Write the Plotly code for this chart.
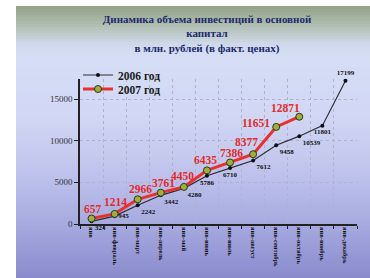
import plotly.graph_objects as go

categories = ["янв", "янв-февраль", "янв-март", "янв-апрель", "янв-май", "янв-июнь",
              "янв-июль", "янв-август", "янв-сентябрь", "янв-октябрь", "янв-ноябрь", "янв-декабрь"]
values_2006 = [324, 945, 2242, 3442, 4280, 5786, 6710, 7612, 9458, 10539, 11801, 17199]
values_2007 = [657, 1214, 2966, 3761, 4450, 6435, 7386, 8377, 11651, 12871]
title_lines = ["Динамика объема инвестиций в основной", "капитал", "в млн. рублей (в факт. ценах)"]

W, H = 370, 278
L, R, T, B = 80, 13, 79, 54
PW, PH = W - L - R, H - T - B

def px_x(px):
    return (px - L) / PW

def px_y(py):
    return (H - B - py) / PH

# background gradient (slide)
stops = [(6, (146, 162, 136)), (25, (176, 190, 176)), (45, (208, 218, 236)), (60, (214, 222, 246)),
         (120, (208, 214, 244)), (160, (196, 200, 238)), (200, (178, 182, 230)), (240, (158, 161, 218)),
         (278, (136, 138, 204))]

def col_at(y):
    for (y0, c0), (y1, c1) in zip(stops[:-1], stops[1:]):
        if y0 <= y <= y1:
            t = (y - y0) / (y1 - y0)
            return "rgb(%d,%d,%d)" % tuple(round(a + (b - a) * t) for a, b in zip(c0, c1))
    return "rgb(%d,%d,%d)" % stops[-1][1]

shapes = []
y = 6
step = 3
while y < 278:
    y2 = min(y + step, 278)
    shapes.append(dict(type="rect", xref="paper", yref="paper", layer="below",
                       x0=px_x(16), x1=px_x(372), y0=px_y(y2 + 0.5), y1=px_y(y),
                       fillcolor=col_at(y + step / 2), line=dict(width=0)))
    y = y2

pos_2006 = ["bottom right", "middle right", "bottom right", "bottom right", "bottom right", "bottom center",
            "bottom center", "bottom right", "bottom right", "bottom right", "bottom center", "top center"]
# pixel offsets of the 2007 labels from their points
shift_2007 = [(1, 10), (1, 12), (3, 10), (3, 10), (-1, 11), (-1, 10), (1, 9), (-7, 12), (-20, 4), (-14, 9)]

serif = "Liberation Serif, DejaVu Serif, serif"

fig = go.Figure()
fig.add_trace(go.Scatter(
    x=categories, y=values_2006, name="<b>2006 год</b>", mode="lines+markers+text",
    line=dict(color="#2e2e36", width=1.2),
    marker=dict(color="#111111", size=4),
    text=["<b>%d</b>" % v for v in values_2006], textposition=pos_2006,
    textfont=dict(family=serif, size=7, color="#111111"),
    cliponaxis=False, legend="legend",
))
fig.add_trace(go.Scatter(
    x=categories[:len(values_2007)], y=values_2007, name="<b>2007 год</b>", mode="lines+markers",
    line=dict(color="#e8302c", width=3),
    marker=dict(color="#9fae3c", size=7, line=dict(color="#2f3a18", width=1)),
    cliponaxis=False, legend="legend2",
))

annotations = []
for cat, v, (dx, dy) in zip(categories, values_2007, shift_2007):
    annotations.append(dict(x=cat, y=v, xref="x", yref="y", text="<b>%d</b>" % v, showarrow=False,
                            xshift=dx, yshift=dy, xanchor="center", yanchor="middle",
                            font=dict(family=serif, size=11.5, color="#e32b2b")))

leg_common = dict(xanchor="left", yanchor="middle", bgcolor="rgba(0,0,0,0)",
                  font=dict(family=serif, size=11.5, color="#1a1a1a"), itemwidth=30)

fig.update_layout(
    template="none",
    width=W, height=H,
    margin=dict(l=L, r=R, t=T, b=B, pad=0, autoexpand=False),
    paper_bgcolor="white", plot_bgcolor="rgba(0,0,0,0)",
    shapes=shapes,
    annotations=annotations,
    title=dict(text="<b>" + "<br>".join(title_lines) + "</b>",
               x=207 / W, xanchor="center", xref="container",
               y=1 - 23 / H, yanchor="top", yref="container",
               font=dict(family=serif, size=11, color="#1c2b6e")),
    showlegend=True,
    legend=dict(x=px_x(78), y=px_y(75), **leg_common),
    legend2=dict(x=px_x(78), y=px_y(89), **leg_common),
    xaxis=dict(type="category", tickson="boundaries", range=[-0.5, 11.5], automargin=False,
               showline=True, linecolor="#222222", linewidth=1.5, mirror=False,
               ticks="outside", ticklen=3, tickcolor="#222222",
               showgrid=True, gridcolor="#aeb2cc", griddash="dot", gridwidth=1, zeroline=False,
               tickangle=90, tickfont=dict(family=serif, size=6.5, color="#111111", weight="bold")),
    yaxis=dict(range=[0, 17400], tickvals=[0, 5000, 10000, 15000], tickformat="d", automargin=False,
               showline=True, linecolor="#222222", linewidth=1.5, mirror=False,
               ticks="outside", ticklen=4, tickcolor="#222222",
               showgrid=True, gridcolor="#aeb2cc", griddash="dot", gridwidth=1,
               zeroline=False,
               tickfont=dict(family=serif, size=9, color="#333333")),
)
fig.write_html("out.html", config={"displayModeBar": False},
               post_script="document.body.style.margin='0';document.body.style.overflow='hidden';")
